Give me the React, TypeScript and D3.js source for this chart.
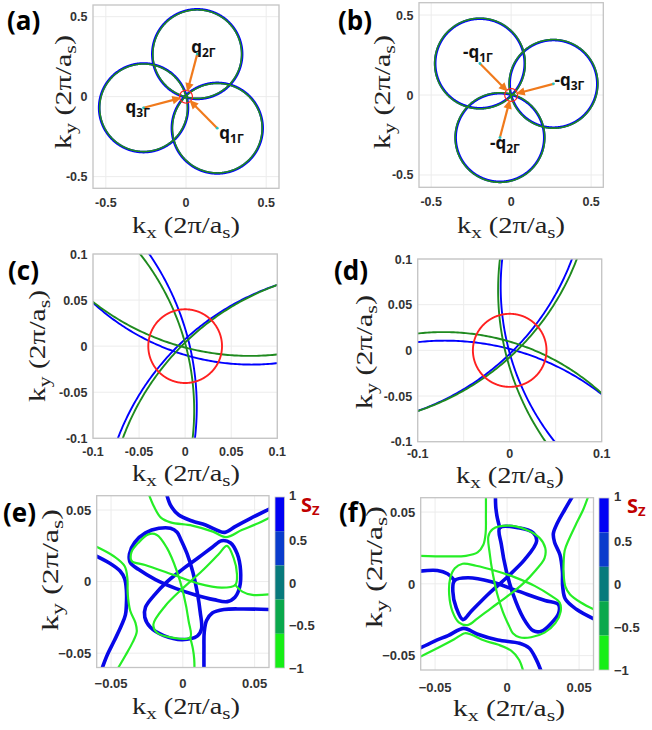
import React from 'react';
import * as d3 from 'd3';

type Pt = [number, number];
type Arc = { cx: number; cy: number; r: number };
type Scale = d3.ScaleLinear<number, number>;

// ---------- (a), (b): Fermi circles around ±q_nΓ (units of 2π/a_s) ----------
const qCentersA: Pt[] = [[0.195, -0.197], [0.070, 0.266], [-0.2646, -0.0696]];
const qSubsA = ['1Γ', '2Γ', '3Γ'];
const greenRadiiA = [0.280, 0.277, 0.274];
const blueRadiiA = [0.283, 0.280, 0.277];

const qCentersB: Pt[] = [[-0.195, 0.197], [-0.070, -0.266], [0.2646, 0.0696]];
const qSubsB = ['1Γ', '2Γ', '3Γ'];
const blueRadiiB = [0.280, 0.277, 0.274];
const greenRadiiB = [0.283, 0.280, 0.277];

const gammaPocketR = 0.04;
const arrowGap = 0.03;

const ticksAB = [-0.5, 0, 0.5];
const tickLabelsAB = ['-0.5', '0', '0.5'];

// ---------- (c), (d): close-up of the contours near Γ ----------
const blueArcsC: Arc[] = [
  { cx: 0.072, cy: 0.234, r: 0.254 },
  { cx: -0.2802, cy: -0.066, r: 0.2928 },
  { cx: 0.1889, cy: -0.1991, r: 0.28 },
];
const greenArcsC: Arc[] = [
  { cx: 0.0704, cy: 0.2664, r: 0.277 },
  { cx: -0.2646, cy: -0.0696, r: 0.2744 },
  { cx: 0.195, cy: -0.197, r: 0.28 },
];
const blueArcsD: Arc[] = [
  { cx: -0.0704, cy: -0.2664, r: 0.277 },
  { cx: 0.2646, cy: 0.0696, r: 0.2744 },
  { cx: -0.195, cy: 0.197, r: 0.28 },
];
const greenArcsD: Arc[] = [
  { cx: -0.072, cy: -0.234, r: 0.254 },
  { cx: 0.2802, cy: 0.066, r: 0.2928 },
  { cx: -0.1889, cy: 0.1991, r: 0.28 },
];

const gridCD = [-0.1, -0.05, 0, 0.05, 0.1];
const tickLabelsC = ['-0.1', '-0.05', '0', '0.05', '0.1'];
const xTicksD = [-0.1, 0, 0.1];
const xTickLabelsD = ['-0.1', '0', '0.1'];

// ---------- (e), (f): hybridised contours, coloured by S_z ----------
const eBlueLoop: Pt[] = [
  [-0.0040, 0.0344], [-0.0016, 0.0298], [0.0030, 0.0193], [0.0070, 0.0065], [0.0100, -0.0074],
  [0.0121, -0.0214], [0.0130, -0.0330], [0.0100, -0.0381], [-0.0005, -0.0405], [-0.0133, -0.0377],
  [-0.0226, -0.0319], [-0.0265, -0.0249], [-0.0260, -0.0179], [-0.0202, -0.0098], [-0.0109, 0.0000],
  [-0.0005, 0.0084], [0.0112, 0.0170], [0.0205, 0.0240], [0.0270, 0.0286], [0.0333, 0.0270],
  [0.0379, 0.0193], [0.0402, 0.0077], [0.0395, -0.0040], [0.0363, -0.0109], [0.0309, -0.0140],
  [0.0216, -0.0126], [0.0088, -0.0093], [-0.0051, -0.0047], [-0.0191, 0.0014], [-0.0307, 0.0084],
  [-0.0365, 0.0130], [-0.0372, 0.0193], [-0.0335, 0.0274], [-0.0260, 0.0340], [-0.0167, 0.0372],
  [-0.0086, 0.0372],
];
const eGreenLoop: Pt[] = [
  [0.0051, -0.0391], [-0.0077, -0.0391], [-0.0181, -0.0356], [-0.0205, -0.0298], [-0.0123, -0.0170],
  [-0.0007, -0.0053], [0.0133, 0.0074], [0.0249, 0.0191], [0.0307, 0.0249], [0.0353, 0.0167],
  [0.0377, 0.0051], [0.0365, -0.0023], [0.0272, -0.0042], [0.0109, -0.0014], [-0.0077, 0.0051],
  [-0.0263, 0.0116], [-0.0356, 0.0144], [-0.0358, 0.0205], [-0.0309, 0.0272], [-0.0240, 0.0330],
  [-0.0181, 0.0326], [-0.0112, 0.0237], [-0.0042, 0.0074], [0.0005, -0.0088], [0.0040, -0.0274],
];
const eBlueOuter: Pt[][] = [
  [[-0.0609, 0.0181], [-0.0512, 0.0130], [-0.0437, 0.0074], [-0.0405, 0.0019], [-0.0393, -0.0063],
   [-0.0393, -0.0156], [-0.0400, -0.0233], [-0.0428, -0.0307], [-0.0477, -0.0412], [-0.0528, -0.0516],
   [-0.0567, -0.0619]],
  [[-0.0116, 0.0623], [-0.0084, 0.0530], [-0.0028, 0.0465], [0.0065, 0.0423], [0.0158, 0.0395],
   [0.0251, 0.0353], [0.0293, 0.0344], [0.0367, 0.0386], [0.0472, 0.0442], [0.0612, 0.0512]],
  [[0.0147, -0.0619], [0.0147, -0.0470], [0.0149, -0.0353], [0.0165, -0.0272], [0.0205, -0.0219],
   [0.0286, -0.0195], [0.0414, -0.0191], [0.0612, -0.0195]],
];
const eGreenOuter: Pt[][] = [
  [[-0.0609, 0.0247], [-0.0481, 0.0177], [-0.0405, 0.0107], [-0.0386, 0.0019], [-0.0384, -0.0086],
   [-0.0367, -0.0202], [-0.0330, -0.0288], [-0.0321, -0.0349], [-0.0349, -0.0423], [-0.0400, -0.0516],
   [-0.0460, -0.0619]],
  [[-0.0242, 0.0623], [-0.0202, 0.0526], [-0.0153, 0.0447], [-0.0086, 0.0414], [0.0065, 0.0391],
   [0.0209, 0.0349], [0.0300, 0.0310], [0.0410, 0.0360], [0.0507, 0.0400], [0.0612, 0.0451]],
  [[0.0051, -0.0391], [0.0070, -0.0470], [0.0079, -0.0540], [0.0081, -0.0619]],
  [[0.0365, -0.0023], [0.0414, -0.0070], [0.0484, -0.0093], [0.0612, -0.0088]],
];

const fGreenLoop: Pt[] = [
  [0.0040, -0.0344], [0.0016, -0.0298], [-0.0030, -0.0193], [-0.0070, -0.0065], [-0.0100, 0.0074],
  [-0.0121, 0.0214], [-0.0130, 0.0330], [-0.0100, 0.0381], [0.0005, 0.0405], [0.0133, 0.0377],
  [0.0226, 0.0319], [0.0265, 0.0249], [0.0260, 0.0179], [0.0202, 0.0098], [0.0109, 0.0000],
  [0.0005, -0.0084], [-0.0112, -0.0170], [-0.0205, -0.0240], [-0.0270, -0.0286], [-0.0333, -0.0270],
  [-0.0379, -0.0193], [-0.0402, -0.0077], [-0.0395, 0.0040], [-0.0363, 0.0109], [-0.0309, 0.0140],
  [-0.0216, 0.0126], [-0.0088, 0.0093], [0.0051, 0.0047], [0.0191, -0.0014], [0.0307, -0.0084],
  [0.0365, -0.0130], [0.0372, -0.0193], [0.0335, -0.0274], [0.0260, -0.0340], [0.0167, -0.0372],
  [0.0086, -0.0372],
];
const fBlueLoop: Pt[] = [
  [-0.0051, 0.0391], [0.0077, 0.0391], [0.0181, 0.0356], [0.0205, 0.0298], [0.0123, 0.0170],
  [0.0007, 0.0053], [-0.0133, -0.0074], [-0.0249, -0.0191], [-0.0307, -0.0249], [-0.0353, -0.0167],
  [-0.0377, -0.0051], [-0.0365, 0.0023], [-0.0272, 0.0042], [-0.0109, 0.0014], [0.0077, -0.0051],
  [0.0263, -0.0116], [0.0356, -0.0144], [0.0358, -0.0205], [0.0309, -0.0272], [0.0240, -0.0330],
  [0.0181, -0.0326], [0.0112, -0.0237], [0.0042, -0.0074], [-0.0005, 0.0088], [-0.0040, 0.0274],
];
const fGreenOuter: Pt[][] = [
  [[0.0609, -0.0181], [0.0512, -0.0130], [0.0437, -0.0074], [0.0405, -0.0019], [0.0393, 0.0063],
   [0.0393, 0.0156], [0.0400, 0.0233], [0.0428, 0.0307], [0.0477, 0.0412], [0.0528, 0.0516],
   [0.0567, 0.0619]],
  [[0.0116, -0.0623], [0.0084, -0.0530], [0.0028, -0.0465], [-0.0065, -0.0423], [-0.0158, -0.0395],
   [-0.0251, -0.0353], [-0.0293, -0.0344], [-0.0367, -0.0386], [-0.0472, -0.0442], [-0.0612, -0.0512]],
  [[-0.0147, 0.0619], [-0.0147, 0.0470], [-0.0149, 0.0353], [-0.0165, 0.0272], [-0.0205, 0.0219],
   [-0.0286, 0.0195], [-0.0414, 0.0191], [-0.0612, 0.0195]],
];
const fBlueOuter: Pt[][] = [
  [[0.0609, -0.0247], [0.0481, -0.0177], [0.0405, -0.0107], [0.0386, -0.0019], [0.0384, 0.0086],
   [0.0367, 0.0202], [0.0330, 0.0288], [0.0321, 0.0349], [0.0349, 0.0423], [0.0400, 0.0516],
   [0.0460, 0.0619]],
  [[0.0242, -0.0623], [0.0202, -0.0526], [0.0153, -0.0447], [0.0086, -0.0414], [-0.0065, -0.0391],
   [-0.0209, -0.0349], [-0.0300, -0.0310], [-0.0410, -0.0360], [-0.0507, -0.0400], [-0.0612, -0.0451]],
  [[-0.0051, 0.0391], [-0.0070, 0.0470], [-0.0079, 0.0540], [-0.0081, 0.0619]],
  [[-0.0365, 0.0023], [-0.0414, 0.0070], [-0.0484, 0.0093], [-0.0612, 0.0088]],
];

const ticksEF = [-0.05, 0, 0.05];
const tickLabelsEF = ['\u22120.05', '0', '0.05'];

// S_z colour bar
const szEdges = [1, 0.6, 0.2, -0.2, -0.6, -1];
const szColors = ['#0000f4', '#0a3ccc', '#087a7c', '#0aa84c', '#16ee16'];
const szTicks = [1, 0.5, 0, -0.5, -1];
const szTickLabels = ['1', '0.5', '0', '\u22120.5', '\u22121'];

// ---------- layout ----------
type Box = { x0: number; x1: number; y0: number; y1: number; xd: Pt; yd: Pt };
const boxes: Record<string, Box> = {
  a: { x0: 93, x1: 279, y0: 5, y1: 188.3, xd: [-0.58, 0.58], yd: [-0.573, 0.573] },
  b: { x0: 419, x1: 603.3, y0: 2.7, y1: 187.3, xd: [-0.576, 0.576], yd: [-0.577, 0.577] },
  c: { x0: 93, x1: 277.3, y0: 254, y1: 438.3, xd: [-0.1, 0.1], yd: [-0.1, 0.1] },
  d: { x0: 417.7, x1: 601.7, y0: 259, y1: 441.7, xd: [-0.1, 0.1], yd: [-0.1, 0.1] },
  e: { x0: 96.7, x1: 269, y0: 495.7, y1: 667.5, xd: [-0.06, 0.06], yd: [-0.06, 0.06] },
  f: { x0: 420.7, x1: 593.5, y0: 497.7, y1: 670, xd: [-0.06, 0.06], yd: [-0.06, 0.06] },
};
const qLabelShiftA: Pt[] = [[2, 11], [-6, -1], [-18, 5]];
const qLabelShiftB: Pt[] = [[-17, -5], [-10, 11], [1, 2]];

const C = {
  blue: '#0000ff',
  green: '#1f8a1f',
  red: '#ff2020',
  orange: '#f07a1c',
  cyan: '#22c4c4',
  blueE: '#0808e8',
  greenE: '#26ee26',
  grid: '#ececec',
  frame: '#c4c4c4',
  tick: '#333333',
  label: '#222222',
};

const SANS = "'Liberation Sans', Arial, sans-serif";
const SERIF = "'Liberation Serif', 'DejaVu Serif', serif";
const BOLDFONT = "'Open Sans', 'Liberation Sans', sans-serif";

function scalesOf(b: Box) {
  const x = d3.scaleLinear().domain(b.xd).range([b.x0, b.x1]);
  const y = d3.scaleLinear().domain(b.yd).range([b.y1, b.y0]);
  return { x, y };
}

function circlePath(c: Arc, x: Scale, y: Scale) {
  const pts: Pt[] = d3.range(0, 360.5, 0.5).map((t) => {
    const a = (t * Math.PI) / 180;
    return [c.cx + c.r * Math.cos(a), c.cy + c.r * Math.sin(a)] as Pt;
  });
  return d3.line<Pt>().x((p) => x(p[0])).y((p) => y(p[1]))(pts) || '';
}

function curvePath(pts: Pt[], x: Scale, y: Scale, closed = false) {
  const gen = d3
    .line<Pt>()
    .x((p) => x(p[0]))
    .y((p) => y(p[1]))
    .curve(closed ? d3.curveCatmullRomClosed.alpha(0.5) : d3.curveCatmullRom.alpha(0.5));
  return gen(pts) || '';
}

// k_x (2π/a_s) style label, drawn in an upright serif
function KLabel({ axis, x, y, vertical, len }: { axis: string; x: number; y: number; vertical?: boolean; len: number }) {
  const fs = 23;
  const sub = fs * 0.74;
  const sh = fs * 0.2;
  return (
    <text
      transform={vertical ? `translate(${x},${y}) rotate(-90)` : `translate(${x},${y})`}
      textAnchor="middle"
      fontFamily={SERIF}
      fontSize={fs}
      fill={C.label}
      textLength={len}
      lengthAdjust="spacingAndGlyphs"
    >
      k
      <tspan fontSize={sub} dy={sh}>{axis}</tspan>
      <tspan dy={-sh}>{' (2π/a'}</tspan>
      <tspan fontSize={sub} dy={sh}>s</tspan>
      <tspan dy={-sh}>)</tspan>
    </text>
  );
}

function Axes(props: {
  id: string;
  b: Box;
  xGrid: number[];
  yGrid: number[];
  xTicks: number[];
  xLabels: string[];
  yTicks: number[];
  yLabels: string[];
  fs: number;
  xLabDy: number;
  children: React.ReactNode;
}) {
  const { id, b, xGrid, yGrid, xTicks, xLabels, yTicks, yLabels, fs, xLabDy, children } = props;
  const { x, y } = scalesOf(b);
  return (
    <g>
      <defs>
        <clipPath id={`clip-${id}`}>
          <rect x={b.x0} y={b.y0} width={b.x1 - b.x0} height={b.y1 - b.y0} />
        </clipPath>
      </defs>
      <rect x={b.x0} y={b.y0} width={b.x1 - b.x0} height={b.y1 - b.y0} fill="#fff" />
      {xGrid.map((v) => (
        <line key={`gx${v}`} x1={x(v)} x2={x(v)} y1={b.y0} y2={b.y1} stroke={C.grid} strokeWidth={1} />
      ))}
      {yGrid.map((v) => (
        <line key={`gy${v}`} x1={b.x0} x2={b.x1} y1={y(v)} y2={y(v)} stroke={C.grid} strokeWidth={1} />
      ))}
      <g clipPath={`url(#clip-${id})`}>{children}</g>
      <rect
        x={b.x0}
        y={b.y0}
        width={b.x1 - b.x0}
        height={b.y1 - b.y0}
        fill="none"
        stroke={C.frame}
        strokeWidth={1.3}
      />
      {xTicks.map((v, i) => (
        <text
          key={`tx${v}`}
          x={x(v)}
          y={b.y1 + xLabDy}
          textAnchor="middle"
          fontFamily={SANS}
          fontWeight="bold"
          fontSize={fs}
          fill={C.tick}
        >
          {xLabels[i]}
        </text>
      ))}
      {yTicks.map((v, i) => (
        <text
          key={`ty${v}`}
          x={b.x0 - 5.5}
          y={y(v) + fs * 0.36}
          textAnchor="end"
          fontFamily={SANS}
          fontWeight="bold"
          fontSize={fs}
          fill={C.tick}
        >
          {yLabels[i]}
        </text>
      ))}
    </g>
  );
}

function QArrows({ b, centers, subs, shifts, prefix }: { b: Box; centers: Pt[]; subs: string[]; shifts: Pt[]; prefix: string }) {
  const { x, y } = scalesOf(b);
  const head = 9;
  const half = 4.2;
  return (
    <g>
      {centers.map((q, i) => {
        const len = Math.hypot(q[0], q[1]);
        const f = arrowGap / len;
        const sx = x(q[0]);
        const sy = y(q[1]);
        const tx = x(q[0] * f);
        const ty = y(q[1] * f);
        const L = Math.hypot(tx - sx, ty - sy);
        const ux = (tx - sx) / L;
        const uy = (ty - sy) / L;
        const bx = tx - ux * head;
        const by = ty - uy * head;
        const poly = [
          [tx, ty],
          [bx - uy * half, by + ux * half],
          [bx + uy * half, by - ux * half],
        ]
          .map((p) => p.join(','))
          .join(' ');
        return (
          <g key={`arr${i}`}>
            <line x1={sx} y1={sy} x2={bx + ux * 1} y2={by + uy * 1} stroke={C.orange} strokeWidth={2.2} />
            <polygon points={poly} fill={C.orange} />
            <circle cx={sx} cy={sy} r={1.4} fill={C.cyan} />
          </g>
        );
      })}
      {centers.map((q, i) => (
        <text
          key={`ql${i}`}
          x={x(q[0]) + shifts[i][0]}
          y={y(q[1]) + shifts[i][1]}
          fontFamily={BOLDFONT}
          fontWeight="bold"
          fontSize={17}
          fill="#111"
        >
          {prefix}
          <tspan fontSize={12} dy={4}>{subs[i]}</tspan>
        </text>
      ))}
    </g>
  );
}

function CirclePanel({ b, centers, blueR, greenR }: { b: Box; centers: Pt[]; blueR: number[]; greenR: number[] }) {
  const { x, y } = scalesOf(b);
  return (
    <g>
      {centers.map((q, i) => (
        <path key={`bc${i}`} d={circlePath({ cx: q[0], cy: q[1], r: blueR[i] }, x, y)} fill="none" stroke={C.blue} strokeWidth={2.6} />
      ))}
      {centers.map((q, i) => (
        <path key={`gc${i}`} d={circlePath({ cx: q[0], cy: q[1], r: greenR[i] }, x, y)} fill="none" stroke={C.green} strokeWidth={1.6} />
      ))}
      <path d={circlePath({ cx: 0, cy: 0, r: gammaPocketR }, x, y)} fill="none" stroke={C.red} strokeWidth={1.2} />
    </g>
  );
}

function ArcPanel({ b, blue, green }: { b: Box; blue: Arc[]; green: Arc[] }) {
  const { x, y } = scalesOf(b);
  return (
    <g>
      {blue.map((c, i) => (
        <path key={`ba${i}`} d={circlePath(c, x, y)} fill="none" stroke={C.blue} strokeWidth={1.9} />
      ))}
      {green.map((c, i) => (
        <path key={`ga${i}`} d={circlePath(c, x, y)} fill="none" stroke={C.green} strokeWidth={1.9} />
      ))}
      <path d={circlePath({ cx: 0, cy: 0, r: gammaPocketR }, x, y)} fill="none" stroke={C.red} strokeWidth={1.9} />
    </g>
  );
}

function SpinPanel({ b, blueLoop, greenLoop, blueOuter, greenOuter }: { b: Box; blueLoop: Pt[]; greenLoop: Pt[]; blueOuter: Pt[][]; greenOuter: Pt[][] }) {
  const { x, y } = scalesOf(b);
  return (
    <g fill="none" strokeLinecap="round" strokeLinejoin="round">
      <path d={curvePath(blueLoop, x, y, true)} stroke={C.blueE} strokeWidth={3.6} />
      {blueOuter.map((p, i) => (
        <path key={`bo${i}`} d={curvePath(p, x, y)} stroke={C.blueE} strokeWidth={3.6} />
      ))}
      <path d={curvePath(greenLoop, x, y, true)} stroke={C.greenE} strokeWidth={2.2} />
      {greenOuter.map((p, i) => (
        <path key={`go${i}`} d={curvePath(p, x, y)} stroke={C.greenE} strokeWidth={2.2} />
      ))}
    </g>
  );
}

function Colorbar({ x0, x1, y0, y1, labX, sx }: { x0: number; x1: number; y0: number; y1: number; labX: number; sx: number }) {
  const s = d3.scaleLinear().domain([-1, 1]).range([y1, y0]);
  return (
    <g>
      {szColors.map((c, i) => (
        <rect key={`cb${i}`} x={x0} width={x1 - x0} y={s(szEdges[i])} height={s(szEdges[i + 1]) - s(szEdges[i])} fill={c} />
      ))}
      <rect x={x0} y={y0} width={x1 - x0} height={y1 - y0} fill="none" stroke="#c8c8c8" strokeWidth={0.8} />
      {szTicks.map((t, i) => (
        <text key={`cbt${i}`} x={labX} y={s(t) + (i === 0 ? 3 : 5)} fontFamily={SANS} fontWeight="bold" fontSize={13} fill={C.tick}>
          {szTickLabels[i]}
        </text>
      ))}
      <text x={sx} y={y0 + 15} fontFamily={BOLDFONT} fontWeight="bold" fontSize={20} fill="#c00000">
        S<tspan fontSize={13} dy={3}>Z</tspan>
      </text>
    </g>
  );
}

function PanelTag({ x, y, t }: { x: number; y: number; t: string }) {
  return (
    <text x={x} y={y} fontFamily={BOLDFONT} fontWeight="bold" fontSize={26} fill="#000">
      {t}
    </text>
  );
}

export default function App() {
  const { a, b, c, d, e, f } = boxes;
  return (
    <svg
      width={652}
      height={730}
      viewBox="0 0 652 730"
      style={{ position: 'absolute', left: 0, top: 0, background: '#fff' }}
    >
      <rect x={0} y={0} width={652} height={730} fill="#fff" />

      {/* (a) */}
      <Axes id="a" b={a} xGrid={ticksAB} yGrid={ticksAB} xTicks={ticksAB} xLabels={tickLabelsAB} yTicks={ticksAB} yLabels={tickLabelsAB} fs={12.5} xLabDy={19}>
        <CirclePanel b={a} centers={qCentersA} blueR={blueRadiiA} greenR={greenRadiiA} />
        <QArrows b={a} centers={qCentersA} subs={qSubsA} shifts={qLabelShiftA} prefix="q" />
      </Axes>
      <KLabel axis="x" x={186} y={233} len={108} />
      <KLabel axis="y" x={71} y={92} vertical len={114} />
      <PanelTag x={7} y={30} t="(a)" />

      {/* (b) */}
      <Axes id="b" b={b} xGrid={ticksAB} yGrid={ticksAB} xTicks={ticksAB} xLabels={tickLabelsAB} yTicks={ticksAB} yLabels={tickLabelsAB} fs={12.5} xLabDy={19}>
        <CirclePanel b={b} centers={qCentersB} blueR={blueRadiiB} greenR={greenRadiiB} />
        <QArrows b={b} centers={qCentersB} subs={qSubsB} shifts={qLabelShiftB} prefix="-q" />
      </Axes>
      <KLabel axis="x" x={511} y={233} len={108} />
      <KLabel axis="y" x={390} y={92} vertical len={114} />
      <PanelTag x={338} y={30} t="(b)" />

      {/* (c) */}
      <Axes id="c" b={c} xGrid={gridCD} yGrid={gridCD} xTicks={gridCD} xLabels={tickLabelsC} yTicks={gridCD} yLabels={tickLabelsC} fs={12.5} xLabDy={18}>
        <ArcPanel b={c} blue={blueArcsC} green={greenArcsC} />
      </Axes>
      <KLabel axis="x" x={186} y={481} len={108} />
      <KLabel axis="y" x={45} y={346} vertical len={112} />
      <PanelTag x={8} y={280} t="(c)" />

      {/* (d) */}
      <Axes id="d" b={d} xGrid={gridCD} yGrid={gridCD} xTicks={xTicksD} xLabels={xTickLabelsD} yTicks={gridCD} yLabels={tickLabelsC} fs={12.5} xLabDy={16.5}>
        <ArcPanel b={d} blue={blueArcsD} green={greenArcsD} />
      </Axes>
      <KLabel axis="x" x={510} y={483} len={108} />
      <KLabel axis="y" x={372} y={352} vertical len={114} />
      <PanelTag x={334} y={280} t="(d)" />

      {/* (e) */}
      <Axes id="e" b={e} xGrid={ticksEF} yGrid={ticksEF} xTicks={ticksEF} xLabels={tickLabelsEF} yTicks={ticksEF} yLabels={tickLabelsEF} fs={13} xLabDy={20.5}>
        <SpinPanel b={e} blueLoop={eBlueLoop} greenLoop={eGreenLoop} blueOuter={eBlueOuter} greenOuter={eGreenOuter} />
      </Axes>
      <KLabel axis="x" x={186} y={714} len={108} />
      <KLabel axis="y" x={58} y={570} vertical len={122} />
      <Colorbar x0={275} x1={284.5} y0={497} y1={668} labX={289} sx={301} />
      <PanelTag x={3} y={522} t="(e)" />

      {/* (f) */}
      <Axes id="f" b={f} xGrid={ticksEF} yGrid={ticksEF} xTicks={ticksEF} xLabels={tickLabelsEF} yTicks={ticksEF} yLabels={tickLabelsEF} fs={13} xLabDy={21.5}>
        <SpinPanel b={f} blueLoop={fBlueLoop} greenLoop={fGreenLoop} blueOuter={fBlueOuter} greenOuter={fGreenOuter} />
      </Axes>
      <KLabel axis="x" x={509} y={716} len={112} />
      <KLabel axis="y" x={382} y={567} vertical len={122} />
      <Colorbar x0={599} x1={609} y0={498} y1={670} labX={614} sx={627} />
      <PanelTag x={339} y={522} t="(f)" />
    </svg>
  );
}
